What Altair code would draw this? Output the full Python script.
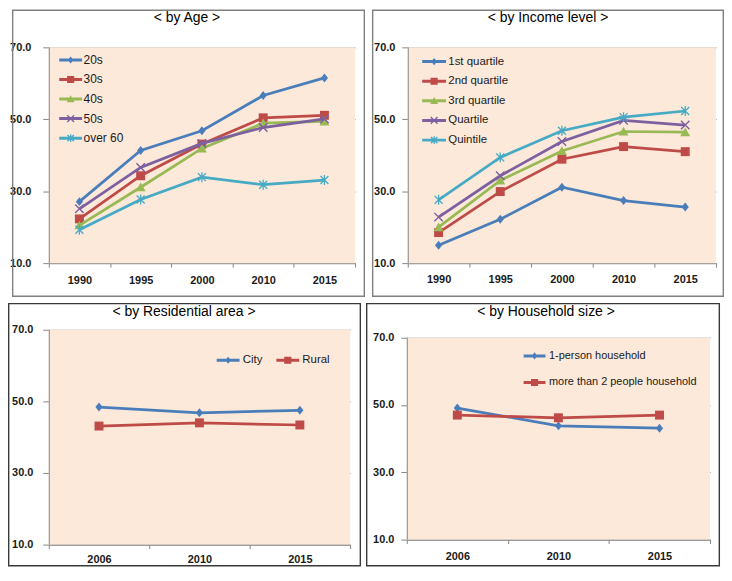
import altair as alt
import pandas as pd

# ---------------- data ----------------
years_a = ["1990", "1995", "2000", "2010", "2015"]
age_series = ["20s", "30s", "40s", "50s", "over 60"]
age_20s = [27.1, 41.3, 46.8, 56.6, 61.5]
age_30s = [22.3, 34.3, 43.1, 50.4, 51.1]
age_40s = [20.5, 31.1, 41.9, 48.9, 49.4]
age_50s = [25.1, 36.6, 43.3, 47.7, 50.1]
age_60s = [19.3, 27.7, 33.9, 31.8, 33.1]

inc_series = ["1st quartile", "2nd quartile", "3rd quartile", "Quartile", "Quintile"]
inc_q1 = [15.0, 22.2, 31.1, 27.4, 25.6]
inc_q2 = [18.5, 29.9, 38.9, 42.4, 41.0]
inc_q3 = [20.0, 33.0, 41.2, 46.6, 46.4]
inc_q4 = [22.8, 34.3, 43.8, 49.7, 48.4]
inc_q5 = [27.6, 39.4, 46.8, 50.6, 52.3]

years_b = ["2006", "2010", "2015"]
area_series = ["City", "Rural"]
area_city = [48.4, 46.8, 47.5]
area_rural = [43.1, 44.0, 43.4]

hh_series = ["1-person household", "more than 2 people household"]
hh_one = [49.1, 43.8, 43.1]
hh_two = [47.0, 46.2, 47.0]

titles = ["< by Age >", "< by Income level >", "< by Residential area >", "< by Household size >"]
y_ticks = [10, 30, 50, 70]
Y_MIN, Y_MAX = 10, 70

# ---------------- styles ----------------
GRID = "#868686"
BG = "#FCE9DA"
FONT = "Liberation Sans"
COLORS = ["#4A7EBB", "#BE4B48", "#98B954", "#7D60A0", "#46AAC5"]
MARKERS = ["diamond", "square", "triangle", "x", "asterisk"]
LW = 2.75
FW = 1.4
U = 5.0  # px per symbol path unit (symbol size 100)


def poly(pts):
    n = len(pts)
    a = sum(pts[i][0] * pts[(i + 1) % n][1] - pts[(i + 1) % n][0] * pts[i][1] for i in range(n))
    if a < 0:
        pts = pts[::-1]
    return "M" + "L".join(f"{x:.3f},{y:.3f}" for x, y in pts) + "Z"


def bar(x0, y0, x1, y1, t):
    dx, dy = x1 - x0, y1 - y0
    d = (dx * dx + dy * dy) ** 0.5
    nx, ny = -dy / d * t, dx / d * t
    return poly([(x0 + nx, y0 + ny), (x1 + nx, y1 + ny), (x1 - nx, y1 - ny), (x0 - nx, y0 - ny)])


def marker(kind, k):
    if kind == "diamond":
        return poly([(0, -0.9 * k), (0.72 * k, 0), (0, 0.9 * k), (-0.72 * k, 0)])
    if kind == "square":
        return poly([(-0.9 * k, -0.9 * k), (0.9 * k, -0.9 * k), (0.9 * k, 0.9 * k), (-0.9 * k, 0.9 * k)])
    if kind == "triangle":
        return poly([(0, -0.95 * k), (1.0 * k, 0.8 * k), (-1.0 * k, 0.8 * k)])
    if kind == "x":
        a = 0.85 * k
        return bar(-a, -a, a, a, 0.14) + bar(-a, a, a, -a, 0.14)
    a = 0.8 * k
    return bar(-a, -a, a, a, 0.13) + bar(-a, a, a, -a, 0.13) + bar(0, -1.0 * k, 0, 1.0 * k, 0.13)


def panel(title, cats, names, values, geo):
    px0, py0, px1, py1 = geo["plot"]
    gy0 = geo.get("gtop", py0)          # top of the layout group (<= plot top)
    fx0, fy0, fx1, fy1 = geo["frame"]
    W, H = px1 - px0, py1 - gy0
    top_off = py0 - gy0
    y_top = Y_MAX + top_off * (Y_MAX - Y_MIN) / (py1 - py0)
    rows = [{"year": c, "series": n, "value": v}
            for n, vals in zip(names, values) for c, v in zip(cats, vals)]
    df = pd.DataFrame(rows)
    colors = COLORS[:len(names)]
    markers = MARKERS[:len(names)]

    xenc = alt.X("year:O", sort=cats, bandPosition=0.5,
                 scale=alt.Scale(type="band", domain=cats, paddingInner=0, paddingOuter=0),
                 axis=alt.Axis(title=None, tickBand="extent", labelAngle=0, tickSize=4,
                               labelPadding=geo["xpad"], grid=False, domainColor=GRID,
                               tickColor=GRID, labelFont=FONT, labelFontSize=11,
                               labelFontWeight="bold", labelColor="#1a1a1a"))
    yenc = alt.Y("value:Q", scale=alt.Scale(domain=[Y_MIN, y_top], nice=False, zero=False),
                 axis=alt.Axis(title=None, values=y_ticks, format=".1f", tickSize=6,
                               labelPadding=geo["ypad"], grid=True, gridColor=GRID,
                               gridOpacity=1, domain=False, tickColor=GRID,
                               labelFont=FONT, labelFontSize=11, labelFontWeight="bold",
                               labelColor="#1a1a1a"))

    layers = []
    one = pd.DataFrame({"t": [title]})
    # plot-area background and left axis line
    layers.append(alt.Chart(one).mark_rect(fill=BG, strokeWidth=0).encode(
        x=alt.value(0), x2=alt.value(W), y=alt.value(top_off), y2=alt.value(H)))
    layers.append(alt.Chart(one).mark_rule(color=GRID, strokeWidth=1).encode(
        x=alt.value(0.5), y=alt.value(top_off), y2=alt.value(H)))
    # outer frame
    layers.append(alt.Chart(one).mark_rect(fillOpacity=0, stroke=geo["fcolor"], strokeWidth=FW).encode(
        x=alt.value(fx0 - px0), x2=alt.value(fx1 - px0),
        y=alt.value(fy0 - gy0), y2=alt.value(fy1 - gy0)))
    tx, ty = geo["title"]
    layers.append(alt.Chart(one).mark_text(font=FONT, fontSize=14, color="#000000").encode(
        x=alt.value(tx - px0), y=alt.value(ty - gy0), text="t:N"))

    lg = geo["legend"]
    L = lg["L"]
    size = max(10, lg["font"])
    leg_paths = [bar(-L / U, 0, L / U, 0, 1.5 / U) + marker(m, 0.8) for m in markers]
    legend = alt.Legend(orient="none", legendX=lg["cx"] - px0 - L, legendY=lg["cy"] - gy0 - size / 2,
                        direction=lg["dir"], title=None, symbolSize=100, symbolStrokeWidth=0,
                        symbolOffset=L - size / 2 - lg["sfix"],
                        labelOffset=2 * L + lg["gap"] - size - lg["lfix"],
                        labelFont=FONT, labelFontSize=lg["font"], labelColor="#1a1a1a",
                        rowPadding=lg.get("row", 0), columnPadding=lg.get("col", 10),
                        padding=0, labelLimit=0, symbolOpacity=1)
    layers.append(alt.Chart(df).transform_filter("false").mark_point(filled=True, opacity=1).encode(
        color=alt.Color("series:N", scale=alt.Scale(domain=names, range=colors), legend=legend),
        shape=alt.Shape("series:N", scale=alt.Scale(domain=names, range=leg_paths), legend=legend)))

    for n, c, m in zip(names, colors, markers):
        sub = alt.Chart(df).transform_filter(alt.datum.series == n)
        layers.append(sub.mark_line(color=c, strokeWidth=LW).encode(x=xenc, y=yenc))
        layers.append(sub.mark_point(filled=True, opacity=1, size=100, shape=marker(m, 1.0),
                                     color=c).encode(x=xenc, y=yenc))
    return alt.layer(*layers).properties(width=W, height=H)


g_tl = {"plot": (45, 46, 353, 263), "frame": (8.7, 8.7, 362.3, 296.3), "fcolor": "#7F7F7F",
        "title": (184, 17), "xpad": 7.5, "ypad": 12,
        "legend": {"L": 11.5, "cx": 71.5, "cy": 58.7, "font": 12, "gap": 1, "dir": "vertical",
                   "row": 7.65, "sfix": 4.5, "lfix": 5}}
g_tr = {"plot": (405, 46, 715, 263), "frame": (369.7, 8.7, 722.3, 296.3), "fcolor": "#7F7F7F",
        "title": (546, 17), "xpad": 6, "ypad": 7,
        "legend": {"L": 12, "cx": 436, "cy": 60.3, "font": 11.5, "gap": 1, "dir": "vertical",
                   "row": 6.75, "sfix": 4.5, "lfix": 5}}
g_bl = {"plot": (49, 329, 352, 545), "frame": (8.7, 302.7, 362.3, 566.3), "fcolor": "#3A3A3A",
        "title": (185, 311), "xpad": 5.2, "ypad": 10,
        "legend": {"L": 11.5, "cx": 228.5, "cy": 359.3, "font": 11.5, "gap": 1.7, "dir": "horizontal",
                   "col": 13, "sfix": -0.85, "lfix": 4.3}}
g_br = {"plot": (408, 337, 713, 540), "gtop": 329, "frame": (367.7, 302.7, 722.3, 566.3),
        "fcolor": "#3A3A3A", "title": (548, 311), "xpad": 7.2, "ypad": 7,
        "legend": {"L": 11, "cx": 535, "cy": 355.3, "font": 11, "gap": 1, "dir": "vertical",
                   "row": 14.7, "sfix": -1.5, "lfix": 3}}

tl = panel(titles[0], years_a, age_series, [age_20s, age_30s, age_40s, age_50s, age_60s], g_tl)
tr = panel(titles[1], years_a, inc_series, [inc_q1, inc_q2, inc_q3, inc_q4, inc_q5], g_tr)
bl = panel(titles[2], years_b, area_series, [area_city, area_rural], g_bl)
br = panel(titles[3], years_b, hh_series, [hh_one, hh_two], g_br)

row1 = alt.hconcat(tl, tr, spacing=6).resolve_scale(color="independent", shape="independent").resolve_legend(color="independent", shape="independent")
row2 = alt.hconcat(bl, br, spacing=4).resolve_scale(color="independent", shape="independent").resolve_legend(color="independent", shape="independent")

chart = alt.vconcat(row1, row2, spacing=5).resolve_scale(
    color="independent", shape="independent").resolve_legend(
    color="independent", shape="independent").properties(
    padding=0, background="white").configure_view(stroke=None)

chart.save("out.html", embed_options={"renderer": "svg", "actions": False})
